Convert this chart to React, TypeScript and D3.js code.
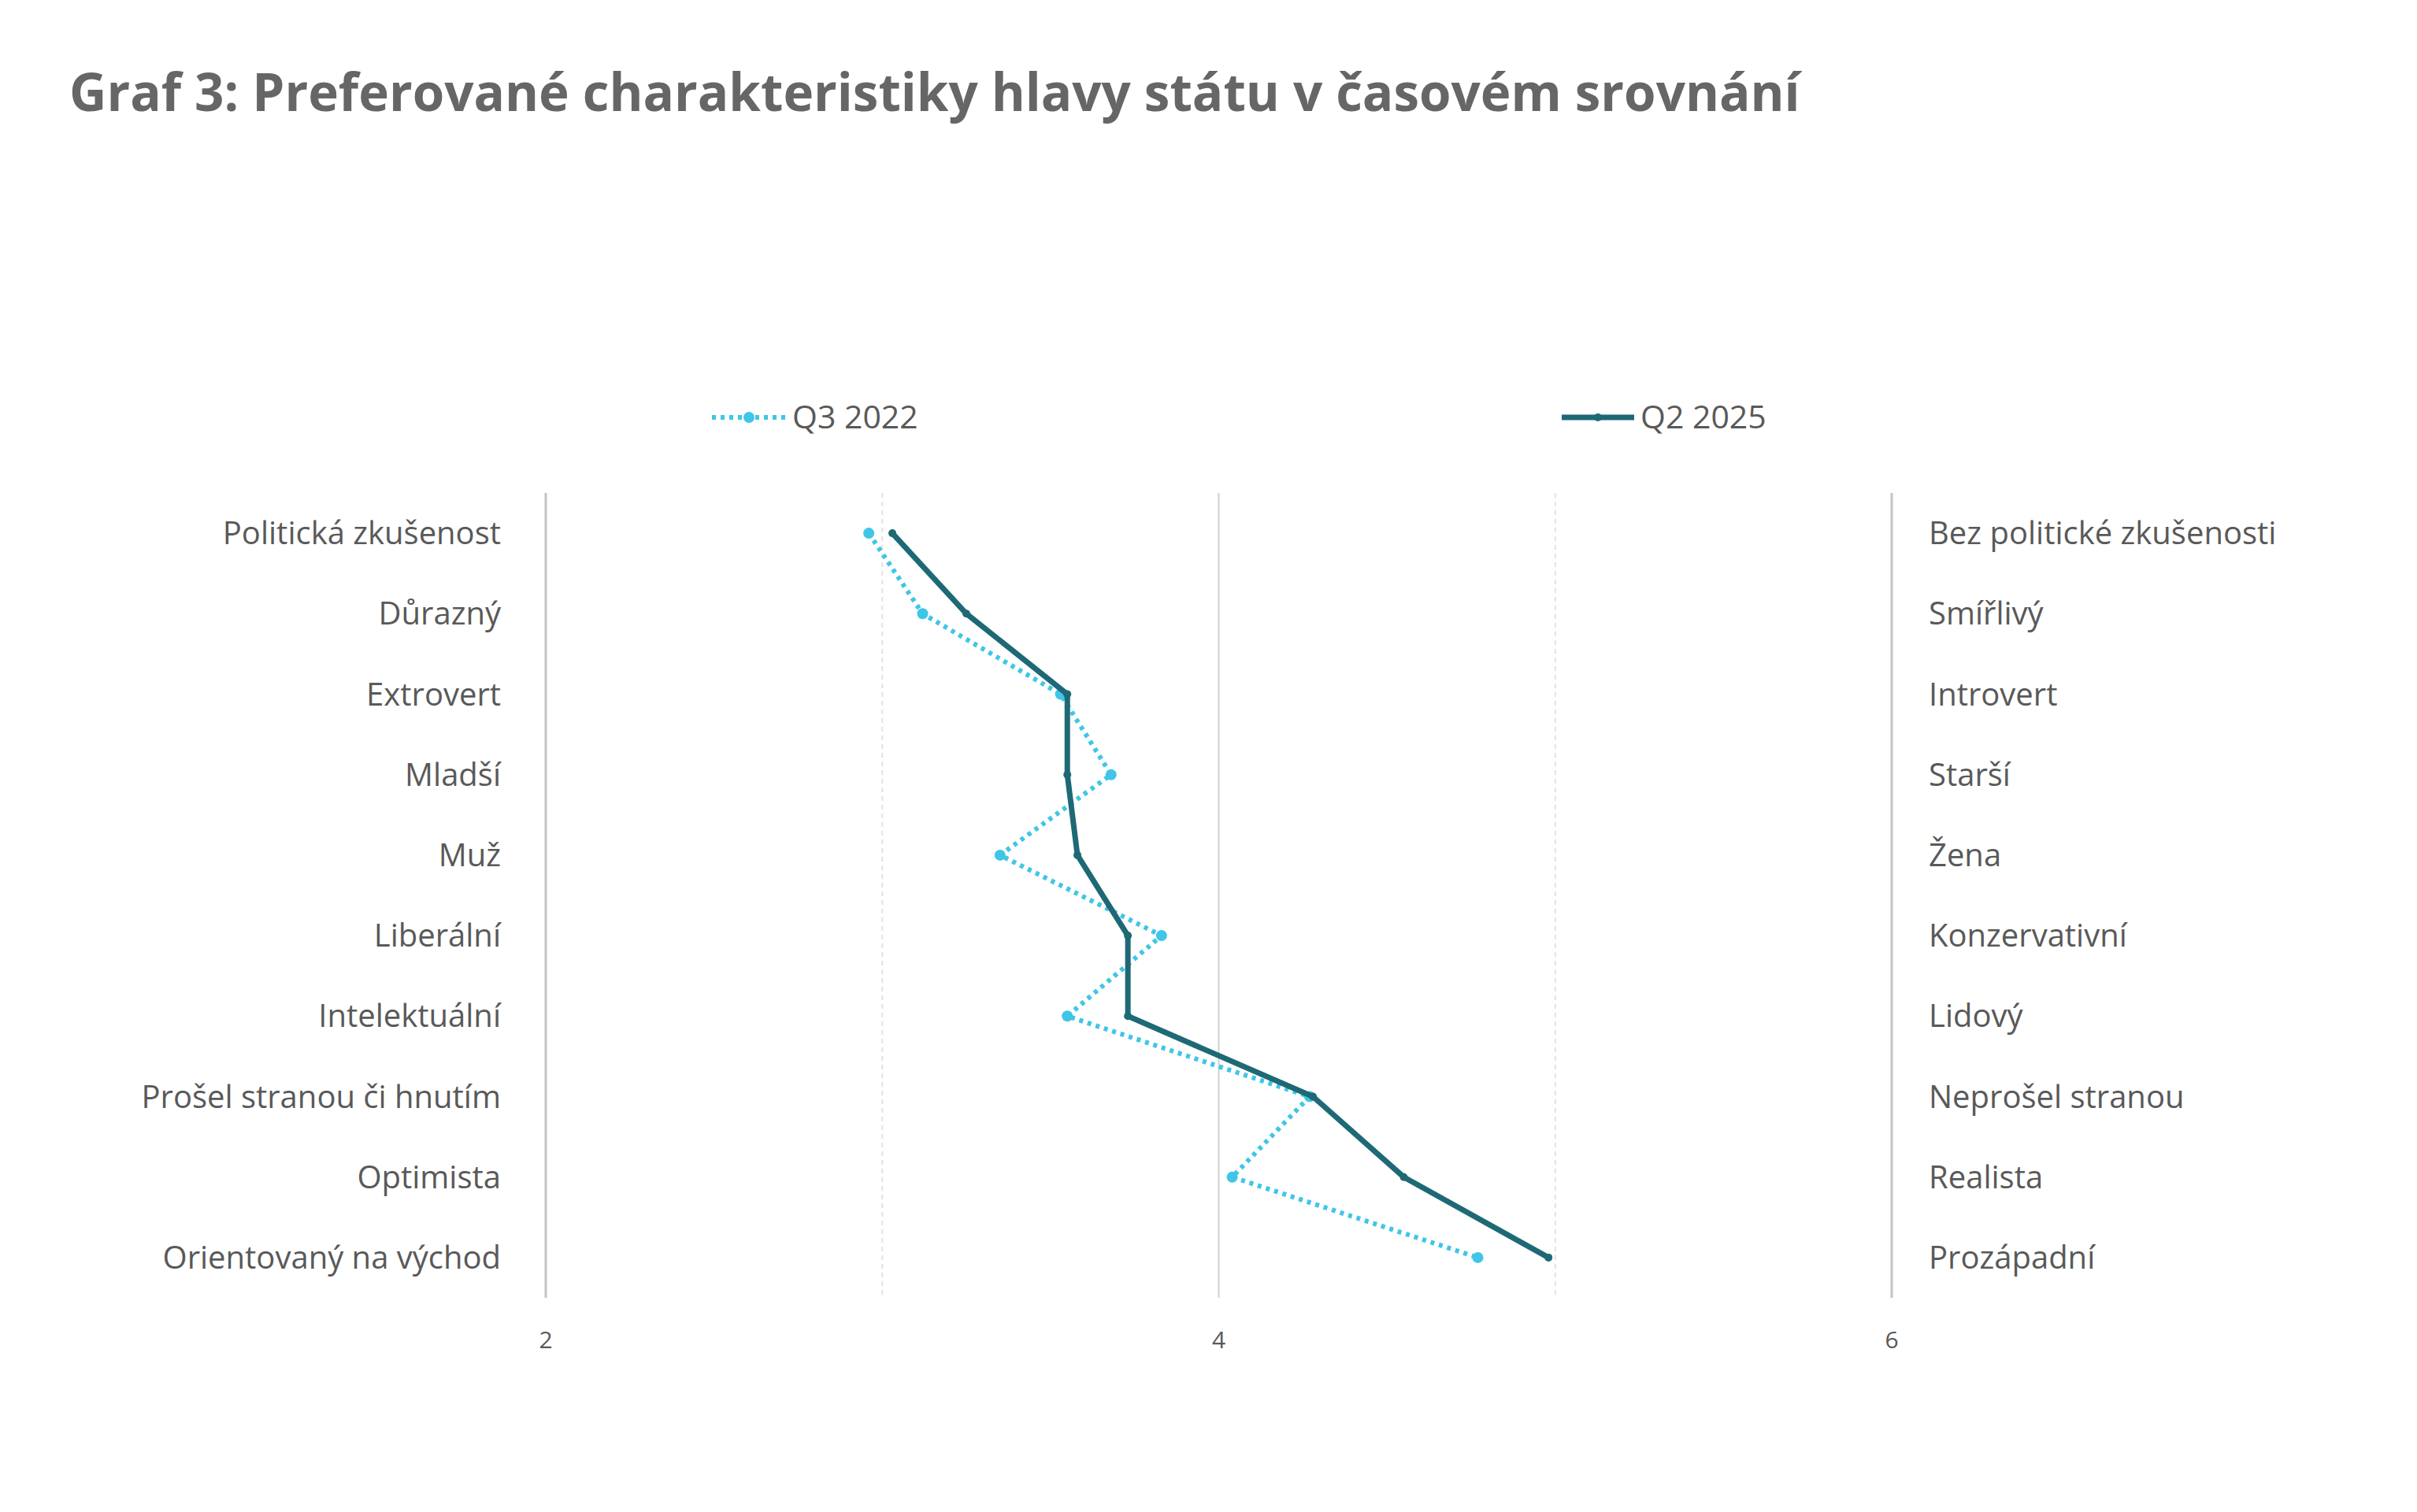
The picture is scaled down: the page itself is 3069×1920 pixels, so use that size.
import React from 'react';
import * as d3 from 'd3';

// kategorie (levý a pravý pól škály)
const leftLabels = [
  'Politická zkušenost',
  'Důrazný',
  'Extrovert',
  'Mladší',
  'Muž',
  'Liberální',
  'Intelektuální',
  'Prošel stranou či hnutím',
  'Optimista',
  'Orientovaný na východ',
];
const rightLabels = [
  'Bez politické zkušenosti',
  'Smířlivý',
  'Introvert',
  'Starší',
  'Žena',
  'Konzervativní',
  'Lidový',
  'Neprošel stranou',
  'Realista',
  'Prozápadní',
];
const q3_2022 = [2.96, 3.12, 3.53, 3.68, 3.35, 3.83, 3.55, 4.27, 4.04, 4.77];
const q2_2025 = [3.03, 3.25, 3.55, 3.55, 3.58, 3.73, 3.73, 4.28, 4.55, 4.98];
const gridValues = [2, 3, 4, 5, 6];
const tickLabels = [2, 4, 6];

const W = 3069, H = 1920;
const darkColor = '#1d6975';
const lightColor = '#3fc6e6';
const textColor = '#595959';
const font = '"Open Sans", sans-serif';

export default function App() {
  const x = d3.scaleLinear().domain([2, 6]).range([693, 2402]);
  const y = d3.scaleBand().domain(leftLabels).range([626, 1648]).padding(0);
  const cy = (i: number) => (y(leftLabels[i]) as number) + y.bandwidth() / 2;

  const line = d3.line<number>()
    .x(d => x(d))
    .y((d, i) => cy(i));

  return (
    <svg width={W} height={H} style={{ position: 'absolute', left: 0, top: 0, background: '#fff' }}>
      <text x={88} y={141} fontFamily={font} fontWeight={700} fontSize={65.5} fill="#666666">
        Graf 3: Preferované charakteristiky hlavy státu v časovém srovnání
      </text>

      {/* legenda */}
      <g fontFamily={font} fontSize={41} fill={textColor}>
        <line x1={904} x2={998} y1={530} y2={530} stroke={lightColor} strokeWidth={6} strokeDasharray="5 6" />
        <circle cx={951} cy={530} r={7} fill={lightColor} />
        <text x={1006} y={530} dy="0.35em">Q3 2022</text>
        <line x1={1983} x2={2075} y1={530} y2={530} stroke={darkColor} strokeWidth={7} />
        <circle cx={2029} cy={530} r={5} fill={darkColor} />
        <text x={2083} y={530} dy="0.35em">Q2 2025</text>
      </g>

      {/* mřížka */}
      {gridValues.map(v => (
        <line
          key={v}
          x1={x(v)} x2={x(v)} y1={626} y2={1648}
          stroke={v === 3 || v === 5 ? '#e2e2e2' : v === 4 ? '#cfcfcf' : '#c4c4c4'}
          strokeWidth={v === 2 || v === 6 ? 3 : 2}
          strokeDasharray={v === 3 || v === 5 ? '6 5' : undefined}
        />
      ))}
      {tickLabels.map(v => (
        <text key={v} x={x(v)} y={1701} dy="0.35em" textAnchor="middle" fontFamily={font} fontSize={30} fill={textColor}>
          {v}
        </text>
      ))}

      {/* popisky kategorií */}
      <g fontFamily={font} fontSize={40} fill={textColor}>
        {leftLabels.map((l, i) => (
          <text key={l} x={636} y={cy(i)} dy="0.35em" textAnchor="end">{l}</text>
        ))}
        {rightLabels.map((l, i) => (
          <text key={l} x={2449} y={cy(i)} dy="0.35em">{l}</text>
        ))}
      </g>

      {/* Q3 2022 */}
      <path d={line(q3_2022) || ''} fill="none" stroke={lightColor} strokeWidth={6} strokeDasharray="5 6" />
      {q3_2022.map((v, i) => (
        <circle key={i} cx={x(v)} cy={cy(i)} r={7} fill={lightColor} />
      ))}

      {/* Q2 2025 */}
      <path d={line(q2_2025) || ''} fill="none" stroke={darkColor} strokeWidth={7} strokeLinejoin="round" />
      {q2_2025.map((v, i) => (
        <circle key={i} cx={x(v)} cy={cy(i)} r={5} fill={darkColor} />
      ))}
    </svg>
  );
}
